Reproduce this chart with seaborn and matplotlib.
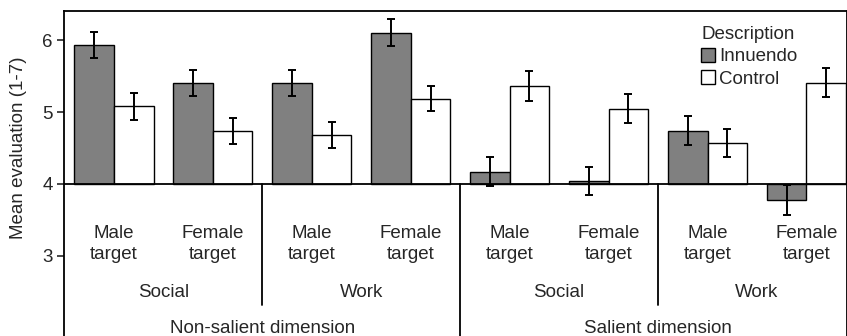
import matplotlib
matplotlib.use("Agg")
import matplotlib.pyplot as plt
from matplotlib.patches import Patch
import numpy as np
import pandas as pd
import seaborn as sns

# Data
dimensions = ["Non-salient dimension", "Salient dimension"]
contexts = ["Social", "Work", "Social", "Work"]
targets = ["Male\ntarget", "Female\ntarget"] * 4
innuendo = [5.94, 5.41, 5.41, 6.11, 4.17, 4.04, 4.74, 3.78]
innuendo_err = [0.18, 0.18, 0.18, 0.19, 0.20, 0.19, 0.20, 0.21]
control = [5.08, 4.74, 4.68, 5.19, 5.37, 5.05, 4.57, 5.41]
control_err = [0.19, 0.18, 0.18, 0.18, 0.21, 0.20, 0.19, 0.20]
baseline = 4

sns.set_style("ticks")
plt.rcParams["font.family"] = ["Liberation Sans", "DejaVu Sans"]
fs = 13.5

groups = ["g%d" % i for i in range(len(targets))]
df = pd.DataFrame({
    "group": groups * 2,
    "description": ["Innuendo"] * len(groups) + ["Control"] * len(groups),
    "value": innuendo + control,
})
df["height"] = df["value"] - baseline

fig = plt.figure(figsize=(8.47, 3.36), dpi=100)
ax = fig.add_axes([64 / 847, 0, 783 / 847, 325 / 336])

palette = {"Innuendo": "#808080", "Control": "white"}
sns.barplot(data=df, x="group", y="height", hue="description", order=groups,
            hue_order=["Innuendo", "Control"], palette=palette, bottom=baseline,
            edgecolor="black", linewidth=1.0, errorbar=None, legend=False, ax=ax)

xpos = np.arange(len(groups))
ax.errorbar(xpos - 0.2, innuendo, yerr=innuendo_err, fmt="none", ecolor="black",
            elinewidth=1.4, capsize=3, capthick=1.4, zorder=5)
ax.errorbar(xpos + 0.2, control, yerr=control_err, fmt="none", ecolor="black",
            elinewidth=1.4, capsize=3, capthick=1.4, zorder=5)

ax.axhline(baseline, color="black", lw=1.3, zorder=6)

ax.set_xlim(-0.505, 7.41)
ax.set_ylim(1.88, 6.41)
ax.set_yticks([3, 4, 5, 6])
ax.set_xticks([])
ax.set_xlabel("")
ax.set_ylabel("Mean evaluation (1-7)", fontsize=fs)
ax.yaxis.set_label_coords(-0.047, 0.578)
ax.tick_params(axis="y", direction="out", length=5, width=1.2, labelsize=fs, pad=3)
for side in ["left", "top", "right"]:
    ax.spines[side].set_linewidth(1.3)
    ax.spines[side].set_color("black")
ax.spines["bottom"].set_visible(False)

# Category labels under the baseline
for i, t in enumerate(targets):
    ax.text(i, 3.16, t, ha="center", va="center", fontsize=fs, linespacing=1.3)
for j, c in enumerate(contexts):
    ax.text(2 * j + 0.5, 2.49, c, ha="center", va="center", fontsize=fs)
for k, d in enumerate(dimensions):
    ax.text(4 * k + 1.5, 1.99, d, ha="center", va="center", fontsize=fs)

# Separators
for x in [1.5, 5.5]:
    ax.plot([x, x], [baseline, 2.31], color="black", lw=1.3)
ax.plot([3.5, 3.5], [baseline, 1.88], color="black", lw=1.3)

handles = [Patch(facecolor=palette[k], edgecolor="black", linewidth=1.0) for k in palette]
leg = ax.legend(handles, list(palette), title="Description", loc="upper left",
                bbox_to_anchor=(692 / 847, 1 - 17 / 336), bbox_transform=fig.transFigure,
                frameon=False, fontsize=fs, title_fontsize=fs, handlelength=0.75,
                handleheight=0.75, handletextpad=0.2, labelspacing=0.25,
                borderpad=0, alignment="left")

fig.savefig("out.png", dpi=100)
